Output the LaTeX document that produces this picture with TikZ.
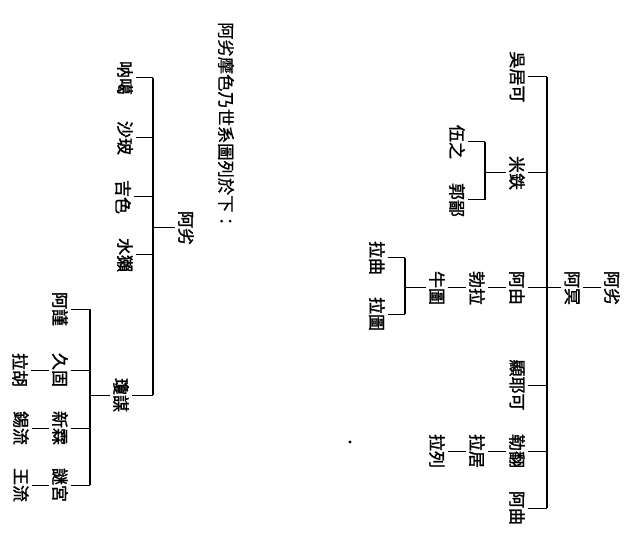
\documentclass[tikz,border=0pt]{standalone}
\usepackage{fontspec}
\newfontfamily\cjk{Noto Sans CJK TC}[FakeBold=0.6]
\newfontfamily\cjkb{Noto Sans CJK TC}[FakeBold=1.6]
\begin{document}
\begin{tikzpicture}[x=1pt,y=-1pt,
  nm/.style={rotate=-90, font=\cjkb\fontsize{17}{17}\selectfont, inner sep=0pt, text=black},
  ttl/.style={rotate=-90, font=\cjk\fontsize{17.3}{17.3}\selectfont, inner sep=0pt, text=black},
  trunk/.style={line width=1.7pt},
  tick/.style={line width=1pt}]
\useasboundingbox (0,0) rectangle (639,534);
\fill[white] (0,0) rectangle (639,534);

% ---------- right tree ----------
\node[nm] (ra) at (612,288) {阿劣};
\node[nm] (rb) at (572,288) {阿冥};
\coordinate (rT) at (547,77);
\coordinate (rB) at (547,508);
\draw[trunk] (rT) -- (rB);
\node[nm] (r1) at (517,77) {吳居可};
\node[nm] (r2) at (517,173) {米鉄};
\node[nm] (r21) at (457,142) {伍之};
\node[nm] (r22) at (457,200) {郭鄙};
\coordinate (s2T) at (485,142);
\coordinate (s2B) at (485,200);
\node[nm] (r3) at (517,288) {阿由};
\node[nm] (r31) at (477,288) {勃拉};
\node[nm] (r32) at (437,288) {牛圖};
\coordinate (s3T) at (405,258);
\coordinate (s3B) at (405,314);
\node[nm] (r33) at (377,258) {拉曲};
\node[nm] (r34) at (377,314) {拉圖};
\node[nm] (r4) at (517,385) {顯耶可};
\node[nm] (r5) at (517,451) {勒翻};
\node[nm] (r51) at (477,451) {拉居};
\node[nm] (r52) at (437,451) {拉列};
\node[nm] (r6) at (517,508) {阿曲};

\draw[tick] ([xshift=-3]ra.south) -- ([xshift=3]rb.north);
\draw[tick] ([xshift=-3]rb.south) -- (rb.south -| rT);
\foreach \n in {r1,r2,r3,r4,r5,r6} \draw[tick] ([xshift=3]\n.north) -- (\n.north -| rT);
\draw[trunk] (s2T) -- (s2B);
\draw[tick] ([xshift=-3]r2.south) -- (r2.south -| s2T);
\foreach \n in {r21,r22} \draw[tick] ([xshift=3]\n.north) -- (\n.north -| s2T);
\draw[tick] ([xshift=-3]r3.south) -- ([xshift=3]r31.north);
\draw[tick] ([xshift=-3]r31.south) -- ([xshift=3]r32.north);
\draw[trunk] (s3T) -- (s3B);
\draw[tick] ([xshift=-3]r32.south) -- (r32.south -| s3T);
\foreach \n in {r33,r34} \draw[tick] ([xshift=3]\n.north) -- (\n.north -| s3T);
\draw[tick] ([xshift=-3]r5.south) -- ([xshift=3]r51.north);
\draw[tick] ([xshift=-3]r51.south) -- ([xshift=3]r52.north);

\fill (350,442) circle (1.6);

% ---------- left tree ----------
\node[ttl] (title) at (226,126) {阿劣摩色乃世系圖列於下：};
\node[nm] (la) at (186,228) {阿劣};
\coordinate (lT) at (153,78);
\coordinate (lB) at (153,395);
\draw[trunk] (lT) -- (lB);
\node[nm] (l1) at (125,78) {呐噶};
\node[nm] (l2) at (125,138) {沙玻};
\node[nm] (l3) at (123,197) {吉色};
\node[nm] (l4) at (125,255) {水獺};
\node[nm] (l5) at (121,395) {瓊謀};
\coordinate (s5T) at (90,309);
\coordinate (s5B) at (90,485);
\node[nm] (l51) at (60,309) {阿謹};
\node[nm] (l52) at (60,370) {久固};
\node[nm] (l53) at (60,428) {新霖};
\node[nm] (l54) at (60,485) {謎宮};
\node[nm] (l521) at (20,370) {拉胡};
\node[nm] (l531) at (21,428) {錫流};
\node[nm] (l541) at (21,485) {王流};

\draw[tick] ([xshift=-3]la.south) -- (la.south -| lT);
\foreach \n in {l1,l2,l3,l4,l5} \draw[tick] ([xshift=3]\n.north) -- (\n.north -| lT);
\draw[trunk] (s5T) -- (s5B);
\draw[tick] ([xshift=-3]l5.south) -- (l5.south -| s5T);
\foreach \n in {l51,l52,l53,l54} \draw[tick] ([xshift=3]\n.north) -- (\n.north -| s5T);
\draw[tick] ([xshift=-3]l52.south) -- ([xshift=3]l521.north);
\draw[tick] ([xshift=-3]l53.south) -- ([xshift=3]l531.north);
\draw[tick] ([xshift=-3]l54.south) -- ([xshift=3]l541.north);
\end{tikzpicture}
\end{document}
